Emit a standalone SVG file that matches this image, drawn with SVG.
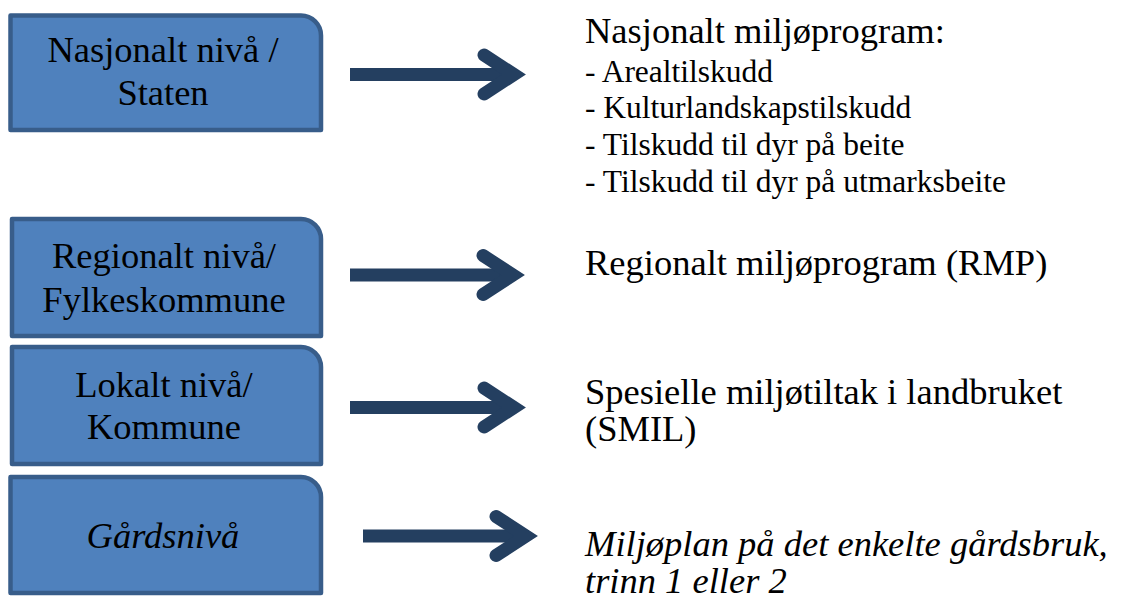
<svg xmlns="http://www.w3.org/2000/svg" width="1121" height="603" viewBox="0 0 1121 603">
<style>
.box{fill:#4f81bd;stroke:#385d8a;stroke-width:4.5;stroke-linejoin:round}
.shaft{stroke:#243f60;stroke-width:13;fill:none;stroke-linecap:butt}
.head{stroke:#243f60;stroke-width:13;fill:none;stroke-linecap:round;stroke-linejoin:miter;stroke-miterlimit:10}
</style>
<rect width="1121" height="603" fill="#fff"/>
<g font-family="Liberation Serif, Times New Roman, DejaVu Serif, serif" font-size="36.5" fill="#000">
<g id="node-nasjonalt">
<path class="box" d="M10.5,15.5 H301 A20,20 0 0 1 321,35.5 V130 H10.5 Z"/>
<text text-anchor="middle" x="163" y="62">Nasjonalt nivå /</text>
<text text-anchor="middle" x="163" y="105">Staten</text>
</g>
<g id="node-regionalt">
<path class="box" d="M12,219 H301 A20,20 0 0 1 321,239 V336 H12 Z"/>
<text text-anchor="middle" x="164" y="268">Regionalt nivå/</text>
<text text-anchor="middle" x="164" y="312">Fylkeskommune</text>
</g>
<g id="node-lokalt">
<path class="box" d="M12,347 H301 A20,20 0 0 1 321,367 V464 H12 Z"/>
<text text-anchor="middle" x="164" y="397">Lokalt nivå/</text>
<text text-anchor="middle" x="164" y="439">Kommune</text>
</g>
<g id="node-gard">
<path class="box" d="M10.5,477 H301 A20,20 0 0 1 321,497 V593 H10.5 Z"/>
<text text-anchor="middle" font-style="italic" x="163" y="548">Gårdsnivå</text>
</g>
<g id="node-nasjonalt-program">
<text x="585" y="43">Nasjonalt miljøprogram:</text>
<text font-size="31.5" x="585" y="82">- Arealtilskudd</text>
<text font-size="31.5" x="585" y="118">- Kulturlandskapstilskudd</text>
<text font-size="31.5" x="585" y="155">- Tilskudd til dyr på beite</text>
<text font-size="31.5" x="585" y="192">- Tilskudd til dyr på utmarksbeite</text>
</g>
<g id="node-rmp">
<text x="585" y="275">Regionalt miljøprogram (RMP)</text>
</g>
<g id="node-smil">
<text x="585" y="404">Spesielle miljøtiltak i landbruket</text>
<text x="585" y="441">(SMIL)</text>
</g>
<g id="node-miljoplan">
<text font-style="italic" x="585" y="556">Miljøplan på det enkelte gårdsbruk,</text>
<text font-style="italic" x="585" y="593">trinn 1 eller 2</text>
</g>
</g>
<g id="connectors">
<path class="shaft" d="M350,74.5 H512"/>
<path class="head" d="M484,55 L514,74.5 L484,94"/>
<path class="shaft" d="M350,275 H511"/>
<path class="head" d="M483,255.5 L513,275 L483,294.5"/>
<path class="shaft" d="M350,407.5 H512"/>
<path class="head" d="M484,388 L514,407.5 L484,427"/>
<path class="shaft" d="M363,536 H524"/>
<path class="head" d="M496,516.5 L526,536 L496,555.5"/>
</g>
</svg>
